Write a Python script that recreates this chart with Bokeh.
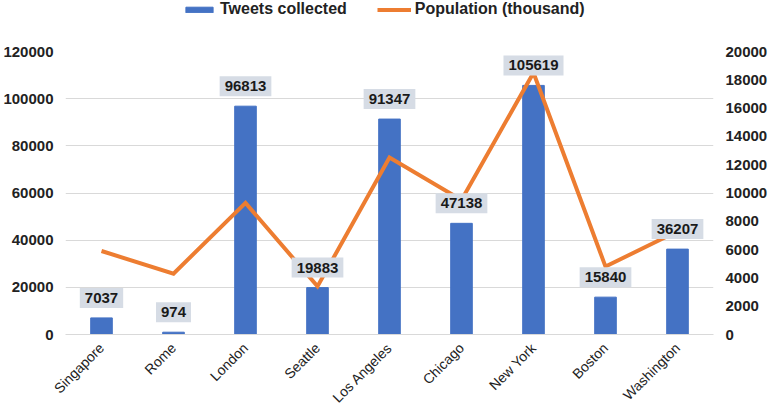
from math import pi
from bokeh.plotting import figure
from bokeh.layouts import column
from bokeh.models import (Range1d, LinearAxis, FixedTicker, Legend, LegendItem, Label,
                          ColumnDataSource, BasicTickFormatter)
from bokeh.embed import file_html
from bokeh.resources import INLINE

cities = ["Singapore", "Rome", "London", "Seattle", "Los Angeles", "Chicago",
          "New York", "Boston", "Washington"]
tweets = [7037, 974, 96813, 19883, 91347, 47138, 105619, 15840, 36207]
population = [5900, 4300, 9300, 3400, 12500, 9500, 18500, 4800, 7300]
left_ticks = [0, 20000, 40000, 60000, 80000, 100000, 120000]
right_ticks = [0, 2000, 4000, 6000, 8000, 10000, 12000, 14000, 16000, 18000, 20000]
series_names = ["Tweets collected", "Population (thousand)"]

FONT = "Liberation Sans"
TXT = "#222222"
GRID = "#d9d9d9"
BLUE = "#4472C4"
ORANGE = "#ED7D31"

xs = list(range(len(cities)))
src = ColumnDataSource(dict(x=xs, tweets=tweets, pop=population))

p = figure(frame_width=648, frame_height=283,
           x_range=Range1d(-0.5, len(cities) - 0.5),
           y_range=Range1d(left_ticks[0], left_ticks[-1]),
           output_backend="svg", toolbar_location=None,
           min_border_left=58, min_border_right=49, min_border_top=33,
           min_border_bottom=60)
p.outline_line_color = None
p.background_fill_color = "white"
p.border_fill_color = "white"
p.extra_y_ranges = {"pop": Range1d(right_ticks[0], right_ticks[-1])}

bars = p.vbar(x="x", top="tweets", width=0.3, source=src,
              fill_color=BLUE, line_color=BLUE)
line = p.line(x="x", y="pop", source=src, y_range_name="pop",
              line_color=ORANGE, line_width=4, line_join="miter")

# x axis
xa = p.xaxis[0]
xa.ticker = FixedTicker(ticks=xs)
xa.major_label_overrides = {i: c for i, c in enumerate(cities)}
xa.major_label_orientation = pi / 4
xa.major_label_text_font = FONT
xa.major_label_text_font_size = "14px"
xa.major_label_text_color = TXT
xa.axis_line_color = GRID
xa.major_tick_line_color = None
xa.minor_tick_line_color = None
xa.major_label_standoff = 5

# left axis
ya = p.yaxis[0]
ya.ticker = FixedTicker(ticks=left_ticks)
ya.formatter = BasicTickFormatter(use_scientific=False)
ya.axis_line_color = None
ya.major_tick_line_color = None
ya.minor_tick_line_color = None
ya.major_label_text_font = FONT
ya.major_label_text_font_size = "15px"
ya.major_label_text_font_style = "bold"
ya.major_label_text_color = TXT
ya.major_label_standoff = 6

# right axis
ra = LinearAxis(y_range_name="pop", ticker=FixedTicker(ticks=right_ticks),
                formatter=BasicTickFormatter(use_scientific=False))
ra.axis_line_color = None
ra.major_tick_line_color = None
ra.minor_tick_line_color = None
ra.major_label_text_font = FONT
ra.major_label_text_font_size = "15px"
ra.major_label_text_font_style = "bold"
ra.major_label_text_color = TXT
ra.major_label_standoff = 6
p.add_layout(ra, "right")

p.xgrid.grid_line_color = None
p.ygrid.grid_line_color = GRID
p.ygrid.grid_line_width = 1

# value labels
for i, t in enumerate(tweets):
    p.add_layout(Label(x=xs[i], y=t, text=str(t), text_align="center",
                       text_baseline="bottom", y_offset=10,
                       text_font=FONT, text_font_size="15px",
                       text_font_style="bold", text_color="#1a1a1a",
                       background_fill_color="#D6DCE5", padding=5))

# legend strip above the chart (swatch renderers sit far outside its visible range)
lg = figure(width=755, height=18, x_range=Range1d(0, 1), y_range=Range1d(0, 1),
            output_backend="svg", toolbar_location=None, min_border=0)
lg.outline_line_color = None
lg.axis.visible = False
lg.grid.visible = False
lb = lg.vbar(x=[0.5], top=[-50], bottom=[-60], width=0.3,
             fill_color=BLUE, line_color=BLUE)
ll = lg.line(x=[0.2, 0.8], y=[-50, -50], line_color=ORANGE, line_width=4)
legend = Legend(items=[LegendItem(label=series_names[0], renderers=[lb]),
                       LegendItem(label=series_names[1], renderers=[ll])],
                orientation="horizontal", location=(117, 0),
                glyph_width=34, glyph_height=7, label_standoff=4, spacing=30,
                label_text_font=FONT, label_text_font_size="16px",
                label_text_font_style="bold", label_text_color=TXT,
                label_height=18,
                padding=0, margin=0, border_line_color=None,
                background_fill_alpha=0)
lg.add_layout(legend, "center")

page = column(lg, p, spacing=0)
open("out.html", "w").write(file_html(page, INLINE))
